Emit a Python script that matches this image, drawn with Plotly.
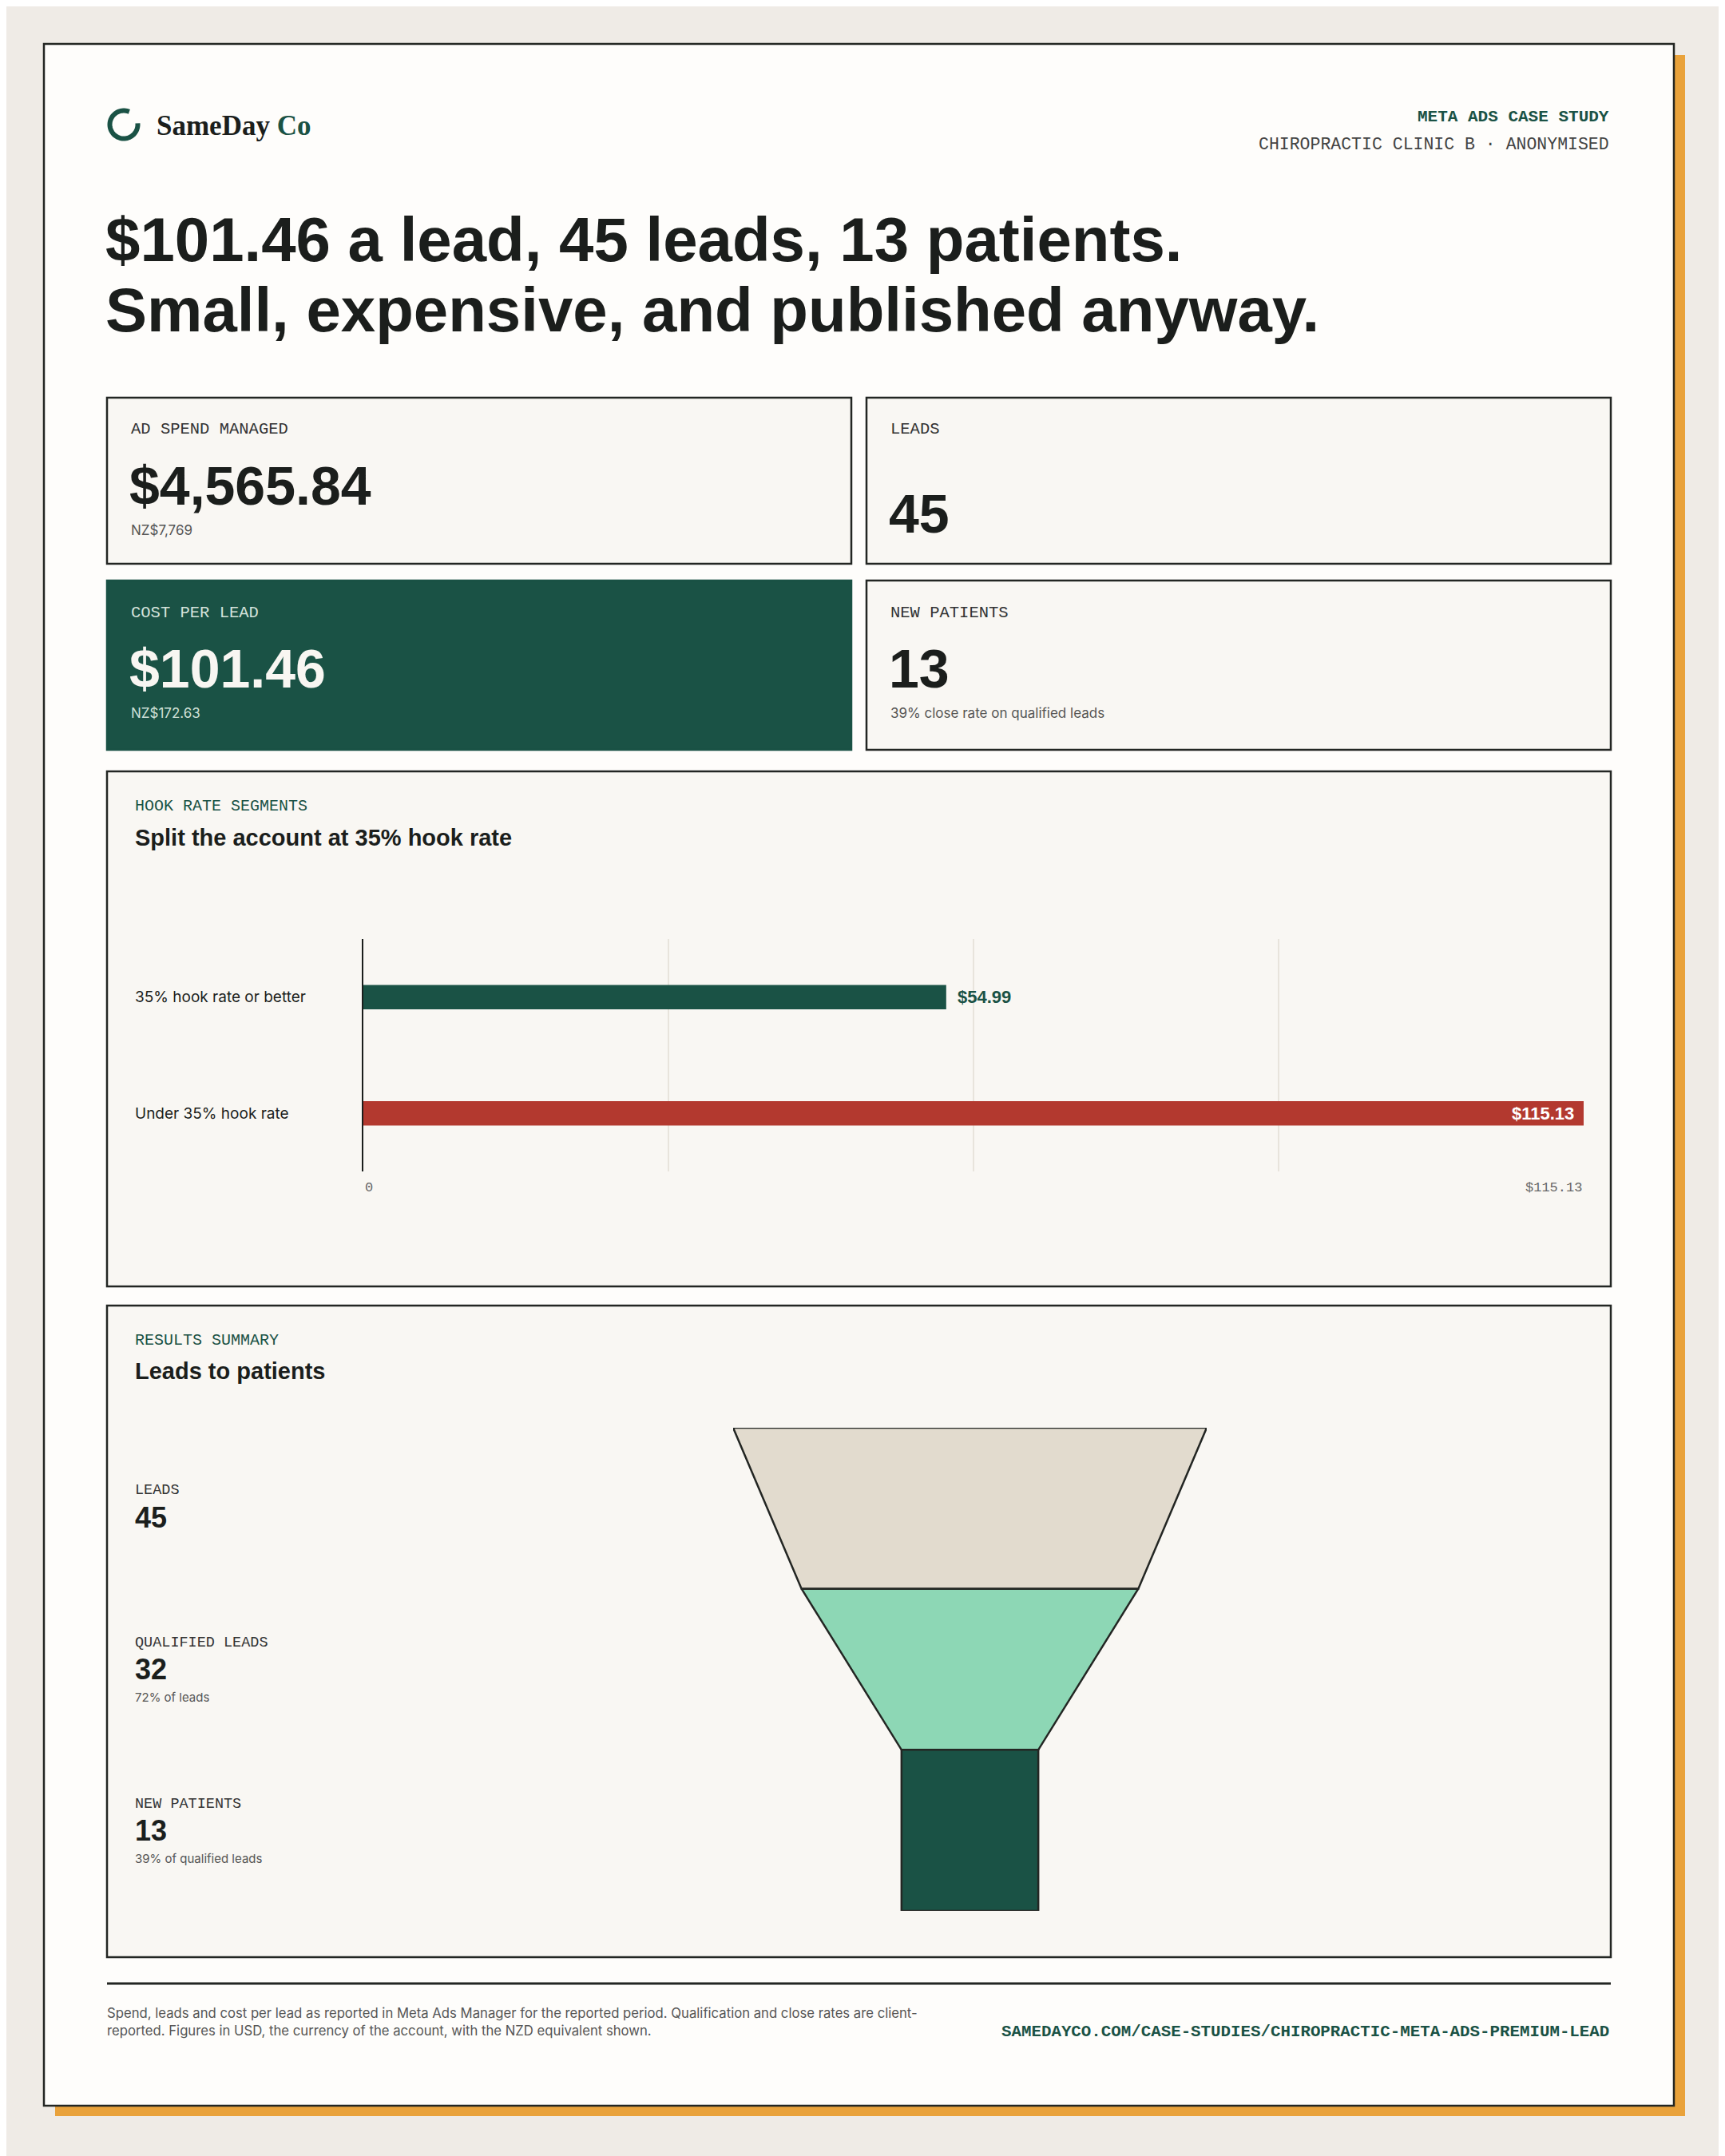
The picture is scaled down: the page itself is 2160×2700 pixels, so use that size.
import numpy as np
import plotly.graph_objects as go

# ── data ──────────────────────────────────────────────
kpi_labels = ["AD SPEND MANAGED", "LEADS", "COST PER LEAD", "NEW PATIENTS"]
kpi_values = [4565.84, 45, 101.46, 13]
kpi_formats = ["${:,.2f}", "{:d}", "${:,.2f}", "{:d}"]
kpi_subs = ["NZ$7,769", "", "NZ$172.63", "39% close rate on qualified leads"]

segment_names = ["35% hook rate or better", "Under 35% hook rate"]
segment_cpl = [54.99, 115.13]

stage_names = ["LEADS", "QUALIFIED LEADS", "NEW PATIENTS"]
stage_values = [45, 32, 13]
stage_subs = ["", "72% of leads", "39% of qualified leads"]

# ── style ─────────────────────────────────────────────
# the page body keeps a default 8px margin, so the figure is drawn 8px smaller
OFF = 8
W, H = 2160 - OFF, 2700 - OFF
GREEN = "#1A5245"
RED = "#B3392F"
MINT = "#8DD7B5"
BEIGE = "#E2DBCE"
INK = "#1B1E1C"
GREY = "#555555"
LINE = "#232623"
CARD = "#F9F7F3"
PAGE = "#FEFDFB"
OUTER = "#EFEBE6"
ORANGE = "#E9A23B"

HEAD = "Liberation Sans, Arial, sans-serif"
BODY = "Inter, Lato, sans-serif"
MONO = "Liberation Mono, DejaVu Sans Mono, monospace"
SERIF = "Liberation Serif, DejaVu Serif, serif"

segment_colors = [GREEN, RED]
stage_colors = [BEIGE, MINT, GREEN]


def px(x):
    return (x - OFF) / W


def py(y):
    return 1 - (y - OFF) / H


fig = go.Figure()


def text(x, y, s, size, color, family, xanchor="left", weight=None):
    font = dict(size=size, color=color, family=family)
    if weight:
        font["weight"] = weight
    fig.add_annotation(
        xref="paper", yref="paper", x=px(x), y=py(y),
        text=s, showarrow=False, xanchor=xanchor, yanchor="middle", font=font,
    )


def box(x0, y0, x1, y1, fill, line=LINE, width=2.5):
    fig.add_shape(
        type="rect", xref="paper", yref="paper", layer="below",
        x0=px(x0), x1=px(x1), y0=py(y1), y1=py(y0),
        fillcolor=fill, line=dict(color=line, width=width),
    )


# ── page ──
box(69, 69, 2110, 2650, ORANGE, line=ORANGE, width=0)
box(55, 55, 2096, 2637, PAGE)

# logo ring
ang = np.radians(np.linspace(67, 365, 60))
pts = [(px(155 + 17.5 * np.cos(a)), py(156 - 17.5 * np.sin(a))) for a in ang]
path = "M " + " L ".join(f"{a:.5f},{b:.5f}" for a, b in pts)
fig.add_shape(type="path", xref="paper", yref="paper", path=path,
              line=dict(color=GREEN, width=6))
text(194, 157, "SameDay <span style='color:%s'>Co</span>" % GREEN, 35, INK, SERIF, weight=700)

text(2017, 146, "META ADS CASE STUDY", 21, GREEN, MONO, xanchor="right", weight=700)
text(2017, 181, "CHIROPRACTIC CLINIC B · ANONYMISED", 21.5, "#444444", MONO, xanchor="right")

text(130, 300, "$101.46 a lead, 45 leads, 13 patients.", 78, INK, HEAD, weight=700)
text(130, 388, "Small, expensive, and published anyway.", 78, INK, HEAD, weight=700)

# ── KPI cards ──
card_boxes = [(134, 498, 1066, 706), (1085, 498, 2017, 706),
              (134, 727, 1066, 939), (1085, 727, 2017, 939)]
for i, (x0, y0, x1, y1) in enumerate(card_boxes):
    dark = kpi_labels[i] == "COST PER LEAD"
    box(x0, y0, x1, y1, GREEN if dark else CARD, line=GREEN if dark else LINE)
    c_lab = "#D5E3DC" if dark else "#333333"
    c_val = "#F8F6F2" if dark else INK
    c_sub = "#CFE0D8" if dark else GREY
    text(x0 + 28, y0 + 40, kpi_labels[i], 20.5, c_lab, MONO)
    val = kpi_formats[i].format(kpi_values[i])
    if kpi_subs[i]:
        text(x0 + 26, y0 + 110, val, 68, c_val, HEAD, weight=700)
        text(x0 + 28, y0 + 166, kpi_subs[i], 17, c_sub, BODY)
    else:
        text(x0 + 26, y0 + 145, val, 68, c_val, HEAD, weight=700)

# ── panel 1: hook rate segments ──
box(134, 966, 2017, 1611, CARD)
text(167, 1009, "HOOK RATE SEGMENTS", 20, GREEN, MONO)
text(167, 1049, "Split the account at 35% hook rate", 29, INK, HEAD, weight=700)

xmax = max(segment_cpl)
fig.add_trace(go.Bar(
    x=segment_cpl, y=segment_names, orientation="h",
    marker=dict(color=segment_colors, line=dict(width=0)),
    width=0.21, hoverinfo="skip", showlegend=False,
    xaxis="x", yaxis="y",
))
for name, v, c in zip(segment_names, segment_cpl, segment_colors):
    inside = v / xmax > 0.8
    fig.add_annotation(xref="x", yref="y", x=v, y=name, text=f"${v:.2f}",
                       showarrow=False, xanchor="right" if inside else "left",
                       xshift=-10 if inside else 12, yanchor="middle",
                       font=dict(size=22, color="#FFFFFF" if inside else c,
                                 family=HEAD, weight=700))
    fig.add_annotation(xref="paper", yref="y", x=px(167), y=name, text=name,
                       showarrow=False, xanchor="left", yanchor="middle",
                       font=dict(size=19, color=INK, family=BODY))
fig.add_annotation(xref="x", yref="paper", x=0, y=py(1487), text="0",
                   showarrow=False, xanchor="left", yanchor="middle",
                   font=dict(size=17, color="#666666", family=MONO))
fig.add_annotation(xref="x", yref="paper", x=xmax, y=py(1487), text=f"${xmax:.2f}",
                   showarrow=False, xanchor="right", yanchor="middle",
                   font=dict(size=17, color="#666666", family=MONO))

# ── panel 2: funnel ──
box(134, 1635, 2017, 2451, CARD)
text(167, 1678, "RESULTS SUMMARY", 20, GREEN, MONO)
text(167, 1717, "Leads to patients", 29, INK, HEAD, weight=700)

n = len(stage_values)
for i, v in enumerate(stage_values):
    nxt = stage_values[i + 1] if i + 1 < n else v
    fig.add_trace(go.Scatter(
        x=[-v / 2, v / 2, nxt / 2, -nxt / 2, -v / 2],
        y=[i, i, i + 1, i + 1, i],
        mode="lines", fill="toself", fillcolor=stage_colors[i],
        line=dict(color=LINE, width=2.5),
        hoverinfo="skip", showlegend=False, xaxis="x2", yaxis="y2",
    ))
    has_sub = bool(stage_subs[i])
    base = 0 if has_sub else -12
    fig.add_annotation(xref="paper", yref="y2", x=px(167), y=i + 0.5,
                       yshift=(33 if has_sub else 34) + base,
                       text=stage_names[i], showarrow=False, xanchor="left", yanchor="middle",
                       font=dict(size=18.5, color="#333333", family=MONO))
    fig.add_annotation(xref="paper", yref="y2", x=px(167), y=i + 0.5, yshift=base,
                       text=str(v), showarrow=False, xanchor="left", yanchor="middle",
                       font=dict(size=36, color=INK, family=HEAD, weight=700))
    if has_sub:
        fig.add_annotation(xref="paper", yref="y2", x=px(167), y=i + 0.5, yshift=-35,
                           text=stage_subs[i], showarrow=False, xanchor="left", yanchor="middle",
                           font=dict(size=15, color=GREY, family=BODY))

# ── footer ──
fig.add_shape(type="line", xref="paper", yref="paper",
              x0=px(134), x1=px(2017), y0=py(2484), y1=py(2484),
              line=dict(color=LINE, width=3))
fig.add_annotation(
    xref="paper", yref="paper", x=px(132), y=py(2532), showarrow=False,
    xanchor="left", yanchor="middle", align="left",
    text=("Spend, leads and cost per lead as reported in Meta Ads Manager for the reported period. "
          "Qualification and close rates are client-<br>reported. Figures in USD, the currency of the "
          "account, with the NZD equivalent shown."),
    font=dict(size=16.7, color=GREY, family=BODY),
)
text(2017, 2544, "SAMEDAYCO.COM/CASE-STUDIES/CHIROPRACTIC-META-ADS-PREMIUM-LEAD", 20.8, GREEN, MONO,
     xanchor="right", weight=700)

fig.update_layout(
    width=W, height=H,
    margin=dict(l=0, r=0, t=0, b=0),
    paper_bgcolor=OUTER, plot_bgcolor="rgba(0,0,0,0)",
    showlegend=False,
    xaxis=dict(domain=[px(455), px(1983)], range=[0, xmax],
               tickvals=[xmax * k / 4 for k in range(5)], showticklabels=False,
               showgrid=True, gridcolor="#E8E4DC", gridwidth=1.5,
               zeroline=False, showline=False, ticks="", fixedrange=True),
    yaxis=dict(domain=[py(1467), py(1176)], range=[1.5, -0.5], type="category",
               showticklabels=False, showgrid=False, zeroline=False,
               showline=True, linecolor=INK, linewidth=2, ticks="", fixedrange=True),
    xaxis2=dict(domain=[px(918), px(1511)], range=[-max(stage_values) / 2, max(stage_values) / 2],
                visible=False, fixedrange=True),
    yaxis2=dict(domain=[py(2393), py(1788)], range=[n, 0], visible=False, fixedrange=True),
)

fig.write_html("out.html")
